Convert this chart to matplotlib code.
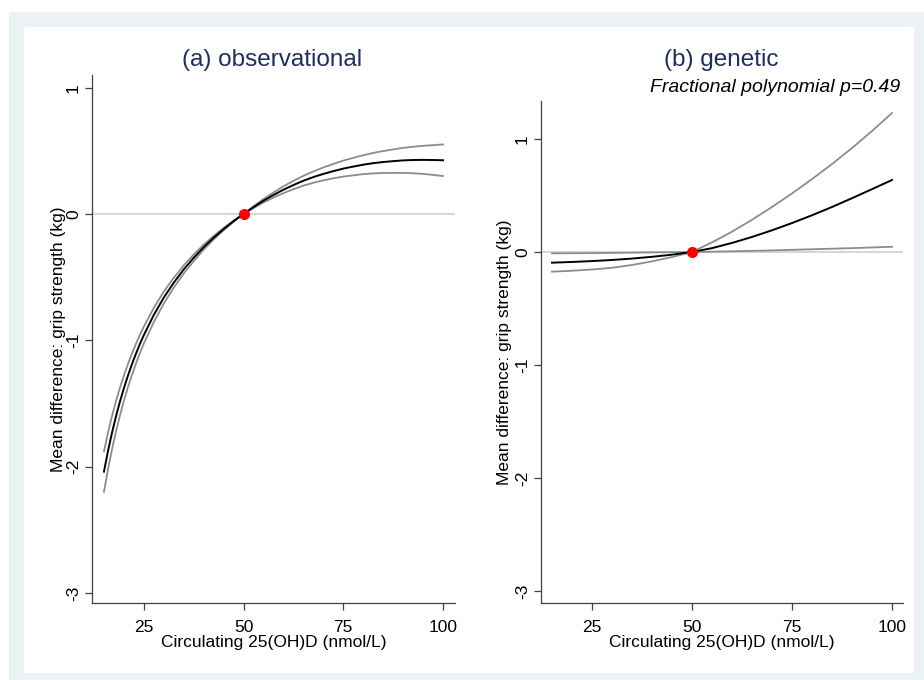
import matplotlib
matplotlib.use("Agg")
import matplotlib.pyplot as plt
from matplotlib.patches import Rectangle

plt.rcParams['font.family'] = ['Liberation Sans', 'DejaVu Sans']
plt.rcParams['axes.unicode_minus'] = False

# ---- data ----
x_obs = [15, 16, 17, 18, 19, 20, 21, 22, 23, 24, 25, 27.5, 30, 32.5, 35, 37.5, 40, 42.5, 45, 47.5,
         50, 52.5, 55, 57.5, 60, 62.5, 65, 67.5, 70, 72.5, 75, 77.5, 80, 82.5, 85, 87.5, 90, 92.5,
         95, 97.5, 100]
obs_est = [-2.040, -1.878, -1.734, -1.604, -1.486, -1.379, -1.281, -1.191, -1.108, -1.030, -0.959,
           -0.799, -0.662, -0.544, -0.439, -0.347, -0.263, -0.188, -0.120, -0.057,
           0.0, 0.054, 0.105, 0.150, 0.192, 0.229, 0.263, 0.292, 0.317, 0.339, 0.359, 0.375,
           0.390, 0.402, 0.411, 0.418, 0.424, 0.427, 0.428, 0.427, 0.425]
obs_upper = [-1.880, -1.733, -1.602, -1.484, -1.376, -1.279, -1.189, -1.106, -1.030, -0.958, -0.892,
             -0.743, -0.615, -0.505, -0.407, -0.321, -0.243, -0.174, -0.111, -0.0525,
             0.0, 0.061, 0.119, 0.170, 0.219, 0.262, 0.302, 0.337, 0.368, 0.396, 0.422, 0.444,
             0.465, 0.483, 0.498, 0.511, 0.523, 0.532, 0.539, 0.545, 0.550]
obs_lower = [-2.200, -2.023, -1.866, -1.724, -1.596, -1.479, -1.373, -1.276, -1.186, -1.102, -1.026,
             -0.855, -0.709, -0.583, -0.471, -0.373, -0.283, -0.202, -0.129, -0.0615,
             0.0, 0.047, 0.091, 0.130, 0.165, 0.196, 0.224, 0.247, 0.266, 0.282, 0.296, 0.306,
             0.315, 0.321, 0.324, 0.325, 0.325, 0.322, 0.317, 0.309, 0.300]

x_gen = [15, 20, 25, 30, 35, 40, 45, 50, 55, 60, 65, 70, 75, 80, 85, 90, 95, 100]
gen_est = [-0.0946, -0.0883, -0.0805, -0.0707, -0.0582, -0.0428, -0.0237, 0.0, 0.034, 0.080,
           0.133, 0.192, 0.256, 0.325, 0.398, 0.476, 0.556, 0.637]
gen_ci1 = [-0.174, -0.166, -0.155, -0.140, -0.115, -0.083, -0.045, 0.0, 0.085, 0.180,
           0.285, 0.398, 0.518, 0.645, 0.778, 0.920, 1.070, 1.230]
gen_ci2 = [-0.012, -0.011, -0.010, -0.008, -0.006, -0.004, -0.002, 0.0, 0.003, 0.006,
           0.010, 0.014, 0.019, 0.024, 0.029, 0.034, 0.040, 0.046]

ref_x = 50
ref_y = 0

x_ticks = [25, 50, 75, 100]
y_ticks = [-3, -2, -1, 0, 1]
titles = ["(a) observational", "(b) genetic"]
xlabel = "Circulating 25(OH)D (nmol/L)"
ylabel = "Mean difference: grip strength (kg)"
note = "Fractional polynomial p=0.49"

W, H = 924, 680
fig = plt.figure(figsize=(W / 100, H / 100), dpi=100)
fig.patch.set_facecolor('white')

def px(x0, y0, x1, y1):
    return [x0 / W, 1 - y1 / H, (x1 - x0) / W, (y1 - y0) / H]

# background frame
r = px(9, 12, 924, 680)
fig.patches.append(Rectangle((r[0], r[1]), r[2], r[3], transform=fig.transFigure,
                             facecolor='#EAF2F3', edgecolor='none', zorder=-10))
r = px(24, 27, 914, 673)
fig.patches.append(Rectangle((r[0], r[1]), r[2], r[3], transform=fig.transFigure,
                             facecolor='white', edgecolor='none', zorder=-9))

title_color = '#1e2f5e'
ci_color = '#8c8c8c'
ref_color = '#cfcfcf'

def style(ax, xlim, ylim, lab_x):
    ax.set_facecolor('none')
    ax.set_xlim(*xlim)
    ax.set_ylim(*ylim)
    for s in ['top', 'right']:
        ax.spines[s].set_visible(False)
    for s in ['left', 'bottom']:
        ax.spines[s].set_color('#404040')
        ax.spines[s].set_linewidth(0.9)
    ax.set_xticks(x_ticks)
    ax.set_yticks(y_ticks)
    ax.set_yticklabels([str(v) for v in y_ticks], rotation=90, va='center')
    ax.tick_params(axis='both', direction='out', length=5, width=0.9, color='#404040',
                   labelsize=12.5, labelcolor='black')
    ax.tick_params(axis='x', pad=7)
    ax.tick_params(axis='y', pad=3)
    ax.set_xlabel(xlabel, fontsize=12.5, labelpad=0)
    ax.set_ylabel(ylabel, fontsize=12.5)
    ax.yaxis.set_label_coords(lab_x, 0.5)

# Panel a
ax1 = fig.add_axes(px(92, 75, 455, 603))
style(ax1, (12, 103), (-3.08, 1.10), -0.071)
ax1.axhline(0, color=ref_color, lw=1.2, zorder=1)
ax1.plot(x_obs, obs_upper, color=ci_color, lw=1.3, zorder=2)
ax1.plot(x_obs, obs_lower, color=ci_color, lw=1.3, zorder=2)
ax1.plot(x_obs, obs_est, color='black', lw=1.4, zorder=3)
ax1.plot([ref_x], [ref_y], 'o', color='red', markersize=7, zorder=4)

# Panel b
ax2 = fig.add_axes(px(541, 101, 903, 603))
style(ax2, (12.25, 102.75), (-3.106, 1.336), -0.079)
ax2.axhline(0, color=ref_color, lw=1.2, zorder=1)
ax2.plot(x_gen, gen_ci1, color=ci_color, lw=1.3, zorder=2)
ax2.plot(x_gen, gen_ci2, color=ci_color, lw=1.3, zorder=2)
ax2.plot(x_gen, gen_est, color='black', lw=1.4, zorder=3)
ax2.plot([ref_x], [ref_y], 'o', color='red', markersize=7, zorder=4)

fig.text(272 / W, 1 - 60 / H, titles[0], ha='center', va='center', fontsize=17.5, color=title_color)
fig.text(721 / W, 1 - 60 / H, titles[1], ha='center', va='center', fontsize=17.5, color=title_color)
fig.text(900 / W, 1 - 87 / H, note, ha='right', va='center', fontsize=14, style='italic', color='black')

fig.savefig('out.png', dpi=100, facecolor='white')
